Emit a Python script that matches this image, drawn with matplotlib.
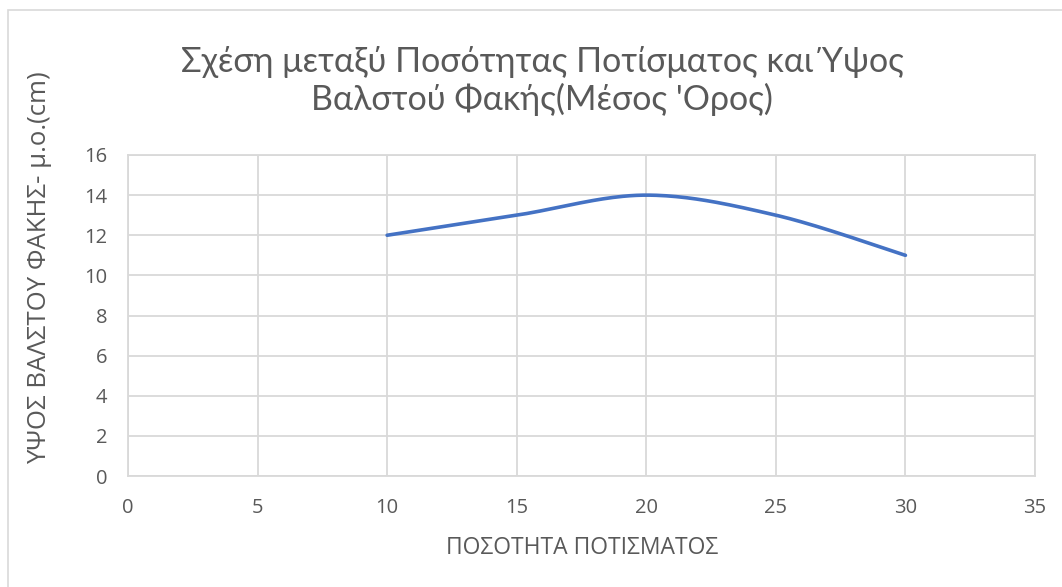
import numpy as np
import matplotlib as mpl
mpl.use('Agg')
import matplotlib.pyplot as plt
from matplotlib.patches import Rectangle

# Watering amount vs. average lentil seedling height
water = [10, 15, 20, 25, 30]
height = [12, 13, 14, 13, 11]
x_ticks = [0, 5, 10, 15, 20, 25, 30, 35]
y_ticks = [0, 2, 4, 6, 8, 10, 12, 14, 16]

title = "Σχέση μεταξύ Ποσότητας Ποτίσματος και Ύψος\nΒαλστού Φακής(Μέσος 'Ορος)"
xlabel = "ΠΟΣΟΤΗΤΑ ΠΟΤΙΣΜΑΤΟΣ"
ylabel = "ΥΨΟΣ ΒΑΛΣΤΟΥ ΦΑΚΗΣ- μ.ο.(cm)"

TXT = '#595959'
GRID = '#d9d9d9'


def smooth(xs, ys, n=40):
    # Catmull-Rom style cubic Bezier through the points (spreadsheet "smoothed line")
    xs = np.asarray(xs, float)
    ys = np.asarray(ys, float)
    px = np.concatenate([[xs[0]], xs, [xs[-1]]])
    py = np.concatenate([[ys[0]], ys, [ys[-1]]])
    out_x, out_y = [], []
    t = np.linspace(0, 1, n)
    for i in range(1, len(px) - 2):
        p0 = np.array([px[i], py[i]])
        p3 = np.array([px[i + 1], py[i + 1]])
        c1 = p0 + (np.array([px[i + 1], py[i + 1]]) - np.array([px[i - 1], py[i - 1]])) / 6
        c2 = p3 - (np.array([px[i + 2], py[i + 2]]) - np.array([px[i], py[i]])) / 6
        b = ((1 - t) ** 3)[:, None] * p0 + (3 * (1 - t) ** 2 * t)[:, None] * c1 \
            + (3 * (1 - t) * t ** 2)[:, None] * c2 + (t ** 3)[:, None] * p3
        out_x.extend(b[:, 0])
        out_y.extend(b[:, 1])
    return out_x, out_y


W, H = 1062, 587
fig = plt.figure(figsize=(W / 100, H / 100), dpi=100)
ax = fig.add_axes([128 / W, 1 - 476 / H, (1035 - 128) / W, (476 - 155) / H])

sx, sy = smooth(water, height)
ax.plot(sx, sy, color='#4472c4', lw=2.6, solid_capstyle='round', zorder=3)

ax.set_xlim(0, 35)
ax.set_ylim(0, 16)
ax.set_xticks(x_ticks)
ax.set_yticks(y_ticks)
ax.grid(True, color=GRID, lw=1.3)
ax.set_axisbelow(True)
for s in ax.spines.values():
    s.set_color(GRID)
    s.set_linewidth(1.3)
ax.tick_params(length=0, labelsize=14.5, colors=TXT)
for lbl in ax.get_xticklabels() + ax.get_yticklabels():
    lbl.set_fontfamily('Open Sans')
ax.tick_params(axis='x', pad=16)
ax.tick_params(axis='y', pad=15)

fig.text(542 / W, 1 - 81 / H, title, ha='center', va='center', fontsize=24.5,
         color=TXT, family='Lato', linespacing=1.2)
fig.text(582 / W, 1 - 548 / H, xlabel, ha='center', va='center', fontsize=16.5,
         color=TXT, family='Open Sans')
fig.text(40 / W, 1 - 268 / H, ylabel, ha='center', va='center', fontsize=18.5,
         color=TXT, family='Open Sans', rotation=90)

# chart frame
fig.patches.append(Rectangle((8 / W, -0.1), 1.2, 1 - 10 / H + 0.1, transform=fig.transFigure,
                             fill=False, edgecolor='#d9d9d9', lw=1.2))

fig.savefig('out.png', dpi=100)
